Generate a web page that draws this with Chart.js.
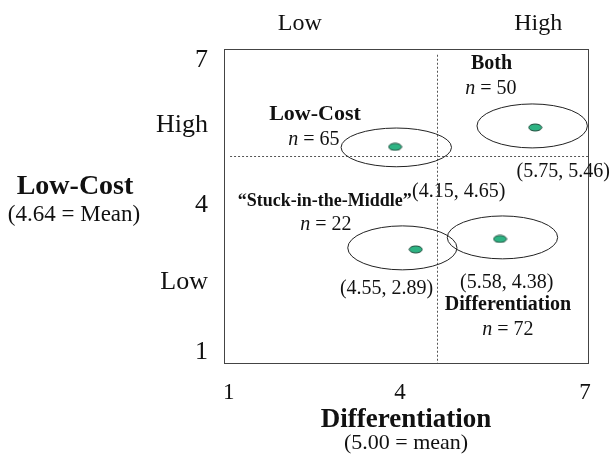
<!DOCTYPE html>
<html>
<head>
<meta charset="utf-8">
<script src="https://cdn.jsdelivr.net/npm/chart.js@4"></script>
<style>
  html, body { margin: 0; padding: 0; background: #fff; }
  #wrap { width: 611px; height: 455px; }
</style>
</head>
<body>
<div id="wrap"><canvas id="chart"></canvas></div>
<script>
// axis ticks as placed in the picture
const xTickValues = [1.08, 3.9, 6.95];
const xTickLabels = ["1", "4", "7"];
const yTickValues = [1.21, 2.55, 4.02, 5.55, 6.79];
const yTickLabels = ["1", "Low", "4", "High", "7"];
const topTickValues = [2.25, 6.18];
const topTickLabels = ["Low", "High"];

// cluster centres (green dots)
const groups = ["Low-Cost", "Both", "Stuck-in-the-Middle", "Differentiation"];
const pointX = [3.82, 6.13, 4.16, 5.55];
const pointY = [5.13, 5.50, 3.17, 3.37];

// spread ellipses around each cluster
const ellipseX = [3.84, 6.08, 3.94, 5.59];
const ellipseY = [5.12, 5.53, 3.20, 3.40];
const ellipseRx = [0.91, 0.91, 0.90, 0.91];
const ellipseRy = [0.37, 0.42, 0.42, 0.41];

// dotted mean lines as drawn
const meanLineX = 4.51;
const meanLineY = 4.95;

// labels inside the plot
const noteText = ["Both", "n = 50", "Low-Cost", "n = 65", "(5.75, 5.46)", "(4.15, 4.65)",
  "\u201CStuck-in-the-Middle\u201D", "n = 22", "(4.55, 2.89)", "(5.58, 4.38)", "Differentiation", "n = 72"];
const noteX = [5.41, 5.40, 2.50, 2.48, 6.59, 4.87, 2.66, 2.68, 3.68, 5.66, 5.68, 5.68];
const noteY = [6.72, 6.25, 5.76, 5.26, 4.66, 4.27, 4.08, 3.64, 2.41, 2.53, 2.11, 1.63];

const xTitle = ["Differentiation", "(5.00 = mean)"];
const yTitle = ["Low-Cost", "(4.64 = Mean)"];

const SERIF = "'Liberation Serif', 'Times New Roman', serif";

function makeDot() {
  const c = document.createElement("canvas");
  c.width = 15;
  c.height = 9;
  const g = c.getContext("2d");
  g.beginPath();
  g.ellipse(7.5, 4.5, 6.5, 3.5, 0, 0, Math.PI * 2);
  g.fillStyle = "#2eb383";
  g.fill();
  g.lineWidth = 1;
  g.strokeStyle = "#1d4d3c";
  g.stroke();
  return c;
}

function drawNote(ctx, text, x, y) {
  ctx.textBaseline = "middle";
  if (text.startsWith("n = ")) {
    const rest = text.slice(1);
    ctx.font = "italic 20px " + SERIF;
    const w1 = ctx.measureText("n").width;
    ctx.font = "20px " + SERIF;
    const w2 = ctx.measureText(rest).width;
    const start = x - (w1 + w2) / 2;
    ctx.textAlign = "left";
    ctx.font = "italic 20px " + SERIF;
    ctx.fillText("n", start, y);
    ctx.font = "20px " + SERIF;
    ctx.fillText(rest, start + w1, y);
    return;
  }
  ctx.textAlign = "center";
  if (text.startsWith("(")) {
    ctx.font = "20px " + SERIF;
  } else if (text === "Low-Cost") {
    ctx.font = "bold 22px " + SERIF;
  } else if (text.startsWith("\u201C")) {
    ctx.font = "bold 18px " + SERIF;
  } else {
    ctx.font = "bold 20px " + SERIF;
  }
  ctx.fillText(text, x, y);
}

const quadrantPlugin = {
  id: "quadrant",
  beforeDatasetsDraw(chart) {
    const { ctx, chartArea: a, scales: { x, y } } = chart;
    ctx.save();
    // frame
    ctx.strokeStyle = "#444";
    ctx.lineWidth = 1;
    ctx.strokeRect(a.left + 0.5, a.top + 0.5, a.right - a.left, a.bottom - a.top);

    // mean lines
    ctx.setLineDash([2, 2]);
    ctx.strokeStyle = "#555";
    ctx.beginPath();
    const vx = Math.round(x.getPixelForValue(meanLineX)) + 0.5;
    ctx.moveTo(vx, y.getPixelForValue(6.89));
    ctx.lineTo(vx, a.bottom);
    const hy = Math.round(y.getPixelForValue(meanLineY)) + 0.5;
    ctx.moveTo(x.getPixelForValue(1.1), hy);
    ctx.lineTo(x.getPixelForValue(7.03), hy);
    ctx.stroke();
    ctx.setLineDash([]);

    // ellipses
    ctx.strokeStyle = "#222";
    ctx.lineWidth = 1;
    for (let i = 0; i < ellipseX.length; i++) {
      const cx = x.getPixelForValue(ellipseX[i]);
      const cy = y.getPixelForValue(ellipseY[i]);
      const rx = Math.abs(x.getPixelForValue(ellipseX[i] + ellipseRx[i]) - cx);
      const ry = Math.abs(y.getPixelForValue(ellipseY[i] + ellipseRy[i]) - cy);
      ctx.beginPath();
      ctx.ellipse(cx, cy, rx, ry, 0, 0, Math.PI * 2);
      ctx.stroke();
    }
    ctx.restore();
  },
  afterDatasetsDraw(chart) {
    const { ctx, chartArea: a, scales: { x, y } } = chart;
    ctx.save();
    ctx.fillStyle = "#111";
    for (let i = 0; i < noteText.length; i++) {
      drawNote(ctx, noteText[i], x.getPixelForValue(noteX[i]), y.getPixelForValue(noteY[i]));
    }

    // axis titles
    const midX = (a.left + a.right) / 2;
    const midY = (a.top + a.bottom) / 2;
    ctx.textAlign = "center";
    ctx.textBaseline = "middle";
    ctx.font = "bold 27px " + SERIF;
    ctx.fillText(xTitle[0], midX, a.bottom + 57);
    ctx.font = "22px " + SERIF;
    ctx.fillText(xTitle[1], midX, a.bottom + 80);

    ctx.font = "bold 28px " + SERIF;
    ctx.fillText(yTitle[0], 75, midY - 19);
    ctx.font = "23px " + SERIF;
    ctx.fillText(yTitle[1], 74, midY + 9);
    ctx.restore();
  }
};

const dot = makeDot();

new Chart(document.getElementById("chart"), {
  type: "scatter",
  data: {
    labels: groups,
    datasets: [{
      label: "Cluster centres",
      data: pointX.map((v, i) => ({ x: v, y: pointY[i] })),
      pointStyle: dot,
      pointRadius: 7,
      pointHoverRadius: 7,
      clip: false
    }]
  },
  options: {
    responsive: true,
    maintainAspectRatio: false,
    animation: false,
    events: [],
    layout: { padding: { left: 0, right: 23, top: 0, bottom: 0 } },
    plugins: {
      legend: { display: false },
      tooltip: { enabled: false }
    },
    scales: {
      x: {
        type: "linear",
        position: "bottom",
        min: 1,
        max: 7,
        grid: { display: false, drawTicks: false },
        border: { display: false },
        afterBuildTicks: (axis) => { axis.ticks = xTickValues.map(v => ({ value: v })); },
        afterFit: (axis) => { axis.height = 92; },
        ticks: {
          autoSkip: false,
          maxRotation: 0,
          padding: 16,
          color: "#111",
          font: { family: SERIF, size: 23 },
          callback: (value, index) => xTickLabels[index]
        }
      },
      xTop: {
        type: "linear",
        position: "top",
        min: 1,
        max: 7,
        grid: { display: false, drawTicks: false },
        border: { display: false },
        afterBuildTicks: (axis) => { axis.ticks = topTickValues.map(v => ({ value: v })); },
        afterFit: (axis) => { axis.height = 49; },
        ticks: {
          autoSkip: false,
          maxRotation: 0,
          padding: 11,
          color: "#111",
          font: { family: SERIF, size: 24 },
          callback: (value, index) => topTickLabels[index]
        }
      },
      y: {
        type: "linear",
        position: "left",
        min: 1,
        max: 7,
        grid: { display: false, drawTicks: false },
        border: { display: false },
        afterBuildTicks: (axis) => { axis.ticks = yTickValues.map(v => ({ value: v })); },
        afterFit: (axis) => { axis.width = 224; },
        ticks: {
          autoSkip: false,
          padding: 16,
          color: "#111",
          font: { family: SERIF, size: 26 },
          callback: (value, index) => yTickLabels[index]
        }
      }
    }
  },
  plugins: [quadrantPlugin]
});
</script>
</body>
</html>
